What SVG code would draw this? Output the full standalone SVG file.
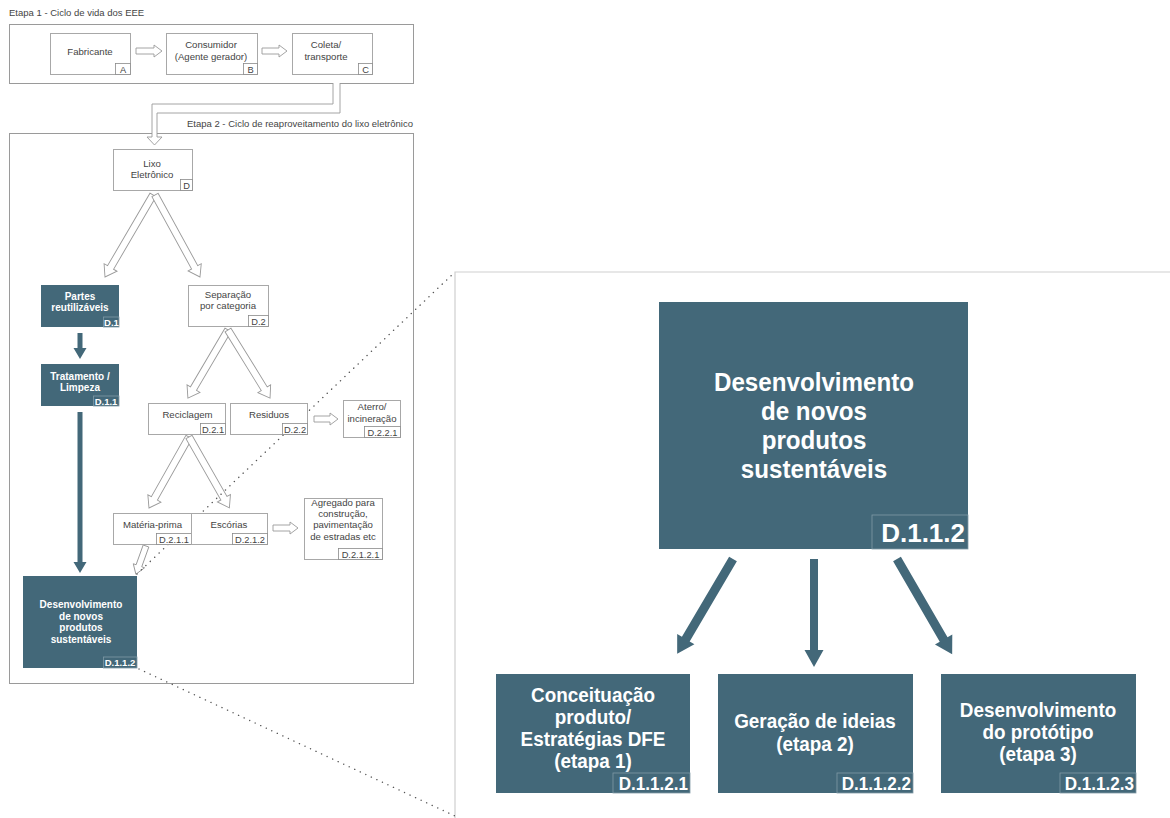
<svg xmlns="http://www.w3.org/2000/svg" width="1170" height="818" viewBox="0 0 1170 818">
<style>
text{font-family:"Liberation Sans",Arial,sans-serif}
.frame{fill:none;stroke:#9a9a9a;stroke-width:1}
.box{fill:#fff;stroke:#a8a8a8;stroke-width:1}
.lb{fill:#fff;stroke:#8a8a8a;stroke-width:0.8}
.dk{fill:#436879;stroke:none}
.dlb{fill:#436879;stroke:#7f99a6;stroke-width:0.8}
.t{font-size:9.6px;fill:#444;text-anchor:middle}
.tl{font-size:9.3px;fill:#444;text-anchor:middle}
.ttl{font-size:9.5px;fill:#444}
.tw{font-size:10px;fill:#fff;font-weight:bold;text-anchor:middle}
.twl{font-size:9.5px;fill:#fff;font-weight:bold;text-anchor:middle}
.big{font-size:26px;fill:#fff;font-weight:bold;text-anchor:middle}
.mid{font-size:21px;fill:#fff;font-weight:bold;text-anchor:middle}
.mlb{font-size:18px;fill:#fff;font-weight:bold;text-anchor:end}
.hol{fill:#fff;stroke:#9a9a9a;stroke-width:0.9}
.dar{fill:#436879;stroke:none}
.dot{fill:none;stroke:#555;stroke-width:1.4;stroke-dasharray:0.1 6;stroke-linecap:round}
.pan{fill:none;stroke:#cfcfcf;stroke-width:1.2}
</style>

<!-- frames -->
<text class="ttl" x="9" y="16">Etapa 1 - Ciclo de vida dos EEE</text>
<rect class="frame" x="9.5" y="24.5" width="404" height="59"/>
<text class="ttl" x="413" y="127" text-anchor="end">Etapa 2 - Ciclo de reaproveitamento do lixo eletrônico</text>
<rect class="frame" x="9.5" y="133.5" width="404" height="550"/>
<path class="pan" d="M455,818 V272 H1170"/>

<!-- connectors -->
<g id="connectors">
  <path class="hol" d="M333,83 V104 H152 V137 H147 L154.5,145 L162,137 H157 V113 H340 V83"/>
  <path class="hol" d="M0,-3 H18 V-6 L26,0 L18,6 V3 H0 Z" transform="translate(136,51)"/>
  <path class="hol" d="M0,-3 H17 V-6 L25,0 L17,6 V3 H0 Z" transform="translate(262,51)"/>
  <path class="hol" d="M0,-3.5 H84 V-7.5 L95,0 L84,7.5 V3.5 H0 Z" transform="translate(153,195) rotate(120.35)"/>
  <path class="hol" d="M0,-3.5 H82.5 V-7.5 L93.5,0 L82.5,7.5 V3.5 H0 Z" transform="translate(155,195) rotate(61.25)"/>
  <path class="hol" d="M0,-3.5 H68 V-7.5 L79,0 L68,7.5 V3.5 H0 Z" transform="translate(228,330) rotate(120.5)"/>
  <path class="hol" d="M0,-3.5 H69 V-7.5 L80,0 L69,7.5 V3.5 H0 Z" transform="translate(228,330) rotate(58.3)"/>
  <path class="hol" d="M0,-3.5 H70.5 V-7.5 L81.5,0 L70.5,7.5 V3.5 H0 Z" transform="translate(189,437) rotate(119.4)"/>
  <path class="hol" d="M0,-3.5 H70.5 V-7.5 L81.5,0 L70.5,7.5 V3.5 H0 Z" transform="translate(189,437) rotate(60.3)"/>
  <path class="hol" d="M0,-3 H16 V-6 L24,0 L16,6 V3 H0 Z" transform="translate(314,419)"/>
  <path class="hol" d="M0,-3 H17 V-6 L25,0 L17,6 V3 H0 Z" transform="translate(273,528)"/>
  <path class="hol" d="M0,-3 H21 V-6 L30,0 L21,6 V3 H0 Z" transform="translate(146,546) rotate(109.7)"/>
  <path class="dar" d="M0,-2.5 H15 V-6.5 L26,0 L15,6.5 V2.5 H0 Z" transform="translate(80,333) rotate(90)"/>
  <path class="dar" d="M0,-2.5 H150 V-6.5 L161,0 L150,6.5 V2.5 H0 Z" transform="translate(80,412) rotate(90)"/>
  <path class="dar" d="M0,-4.5 H93 V-10 L110,0 L93,10 V4.5 H0 Z" transform="translate(733,559) rotate(120.5)"/>
  <path class="dar" d="M0,-4 H91 V-9.5 L108,0 L91,9.5 V4 H0 Z" transform="translate(814,559) rotate(90)"/>
  <path class="dar" d="M0,-4.5 H93 V-10 L110,0 L93,10 V4.5 H0 Z" transform="translate(897,559) rotate(59.9)"/>
  <path class="dot" d="M137,574 L455,272"/>
  <path class="dot" d="M139,669 L455,816"/>
</g>

<!-- nodes -->
<g id="fabricante">
  <rect class="box" x="50.5" y="33.5" width="80" height="41"/>
  <text class="t" x="90" y="55">Fabricante</text>
  <rect class="lb" x="115.5" y="63.5" width="15" height="11"/>
  <text class="tl" x="123" y="72.5">A</text>
</g>
<g id="consumidor">
  <rect class="box" x="166.5" y="33.5" width="91" height="41"/>
  <text class="t" x="211" y="48">Consumidor</text>
  <text class="t" x="211" y="60">(Agente gerador)</text>
  <rect class="lb" x="243.5" y="63.5" width="14" height="11"/>
  <text class="tl" x="250.5" y="72.5">B</text>
</g>
<g id="coleta">
  <rect class="box" x="292.5" y="33.5" width="80" height="41"/>
  <text class="t" x="326" y="48">Coleta/</text>
  <text class="t" x="326" y="60">transporte</text>
  <rect class="lb" x="358.5" y="63.5" width="14" height="11"/>
  <text class="tl" x="365.5" y="72.5">C</text>
</g>
<g id="lixo">
  <rect class="box" x="113.5" y="149.5" width="79" height="41"/>
  <text class="t" x="152" y="167">Lixo</text>
  <text class="t" x="152" y="178">Eletrônico</text>
  <rect class="lb" x="180.5" y="179.5" width="12" height="11"/>
  <text class="tl" x="186.5" y="188.5">D</text>
</g>
<g id="partes">
  <rect class="dk" x="41" y="285" width="78" height="42"/>
  <text class="tw" x="80" y="300">Partes</text>
  <text class="tw" x="80" y="311">reutilizáveis</text>
  <rect class="dlb" x="103.5" y="317" width="15.5" height="10"/>
  <text class="twl" x="111.5" y="325.5">D.1</text>
</g>
<g id="tratamento">
  <rect class="dk" x="41" y="364" width="78" height="42"/>
  <text class="tw" x="80" y="380">Tratamento /</text>
  <text class="tw" x="80" y="391">Limpeza</text>
  <rect class="dlb" x="93.5" y="396" width="25.5" height="10"/>
  <text class="twl" x="106" y="404.5">D.1.1</text>
</g>
<g id="separacao">
  <rect class="box" x="188.5" y="285.5" width="80" height="41"/>
  <text class="t" x="228" y="298">Separação</text>
  <text class="t" x="228" y="309">por categoria</text>
  <rect class="lb" x="248.5" y="315.5" width="20" height="11"/>
  <text class="tl" x="258.5" y="324.5">D.2</text>
</g>
<g id="reciclagem">
  <rect class="box" x="148.5" y="403.5" width="77" height="31"/>
  <text class="t" x="187.5" y="418">Reciclagem</text>
  <rect class="lb" x="200.5" y="423.5" width="25" height="11"/>
  <text class="tl" x="213" y="432.5">D.2.1</text>
</g>
<g id="residuos">
  <rect class="box" x="230.5" y="403.5" width="77" height="31"/>
  <text class="t" x="269" y="418">Residuos</text>
  <rect class="lb" x="282.5" y="423.5" width="25" height="11"/>
  <text class="tl" x="295" y="432.5">D.2.2</text>
</g>
<g id="aterro">
  <rect class="box" x="343.5" y="400.5" width="57" height="37"/>
  <text class="t" x="372" y="410">Aterro/</text>
  <text class="t" x="372" y="422">incineração</text>
  <rect class="lb" x="364.5" y="426.5" width="36" height="11"/>
  <text class="tl" x="382.5" y="435.5">D.2.2.1</text>
</g>
<g id="materia">
  <rect class="box" x="113.5" y="513.5" width="78" height="31"/>
  <text class="t" x="152.5" y="528">Matéria-prima</text>
  <rect class="lb" x="156.5" y="533.5" width="35" height="11"/>
  <text class="tl" x="174" y="542.5">D.2.1.1</text>
</g>
<g id="escorias">
  <rect class="box" x="191.5" y="513.5" width="76" height="31"/>
  <text class="t" x="229" y="528">Escórias</text>
  <rect class="lb" x="232.5" y="533.5" width="35" height="11"/>
  <text class="tl" x="250" y="542.5">D.2.1.2</text>
</g>
<g id="agregado">
  <rect class="box" x="304.5" y="498.5" width="78" height="61"/>
  <text class="t" x="343" y="506">Agregado para</text>
  <text class="t" x="343" y="517">construção,</text>
  <text class="t" x="343" y="528">pavimentação</text>
  <text class="t" x="343" y="540">de estradas etc</text>
  <rect class="lb" x="338.5" y="548.5" width="44" height="11"/>
  <text class="tl" x="360.5" y="557.5">D.2.1.2.1</text>
</g>
<g id="desenv-left">
  <rect class="dk" x="23" y="576" width="114" height="92"/>
  <text class="tw" x="81" y="608">Desenvolvimento</text>
  <text class="tw" x="81" y="620">de novos</text>
  <text class="tw" x="81" y="631">produtos</text>
  <text class="tw" x="81" y="643">sustentáveis</text>
  <rect class="dlb" x="103.5" y="657" width="33.5" height="11"/>
  <text class="twl" x="120" y="666">D.1.1.2</text>
</g>
<g id="desenv-big">
  <rect class="dk" x="659" y="302" width="309" height="247"/>
  <text class="big" transform="translate(814,391) scale(0.93,1)">Desenvolvimento</text>
  <text class="big" transform="translate(814,420) scale(0.93,1)">de novos</text>
  <text class="big" transform="translate(814,449) scale(0.93,1)">produtos</text>
  <text class="big" transform="translate(814,478) scale(0.93,1)">sustentáveis</text>
  <rect class="dlb" x="872" y="515" width="96" height="34"/>
  <text class="mlb" x="965" y="542" style="font-size:26px">D.1.1.2</text>
</g>
<g id="conceituacao">
  <rect class="dk" x="496" y="674" width="194" height="119"/>
  <text class="mid" transform="translate(593,702) scale(0.9,1)">Conceituação</text>
  <text class="mid" transform="translate(593,724) scale(0.9,1)">produto/</text>
  <text class="mid" transform="translate(593,746) scale(0.9,1)">Estratégias DFE</text>
  <text class="mid" transform="translate(593,768) scale(0.9,1)">(etapa 1)</text>
  <rect class="dlb" x="613" y="773" width="77" height="20"/>
  <text class="mlb" transform="translate(688,790) scale(0.95,1)">D.1.1.2.1</text>
</g>
<g id="geracao">
  <rect class="dk" x="718" y="674" width="195" height="119"/>
  <text class="mid" transform="translate(815,728) scale(0.9,1)">Geração de ideias</text>
  <text class="mid" transform="translate(815,751) scale(0.9,1)">(etapa 2)</text>
  <rect class="dlb" x="837" y="773" width="76" height="20"/>
  <text class="mlb" transform="translate(911,790) scale(0.95,1)">D.1.1.2.2</text>
</g>
<g id="prototipo">
  <rect class="dk" x="941" y="674" width="195" height="119"/>
  <text class="mid" transform="translate(1038,717) scale(0.9,1)">Desenvolvimento</text>
  <text class="mid" transform="translate(1038,739) scale(0.9,1)">do protótipo</text>
  <text class="mid" transform="translate(1038,761) scale(0.9,1)">(etapa 3)</text>
  <rect class="dlb" x="1060" y="773" width="76" height="20"/>
  <text class="mlb" transform="translate(1134,790) scale(0.95,1)">D.1.1.2.3</text>
</g>
</svg>
